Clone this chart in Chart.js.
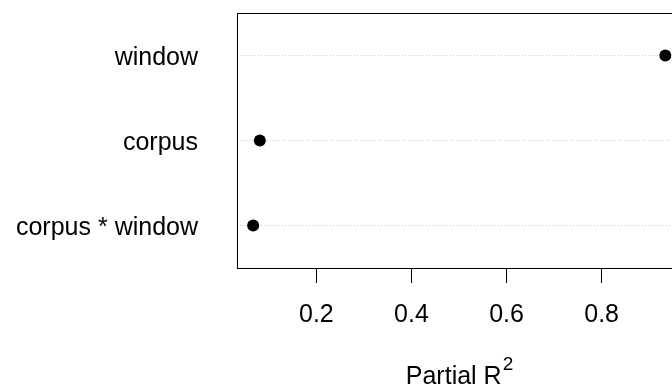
<!DOCTYPE html>
<html>
<head>
<meta charset="utf-8">
<script src="https://cdn.jsdelivr.net/npm/chart.js@4.4.1/dist/chart.umd.min.js"></script>
<style>
  html, body { margin: 0; padding: 0; background: #fff; overflow: hidden; }
  #wrap { width: 672px; height: 385px; overflow: hidden; }
</style>
</head>
<body>
<div id="wrap"><canvas id="dotChart" width="700" height="385"></canvas></div>
<script>
// model terms, top to bottom as in the plot
const terms = ['window', 'corpus', 'corpus * window'];
// partial R^2 of each term
const partialR2 = [0.934, 0.081, 0.067];
// x axis tick values
const xTicks = [0.2, 0.4, 0.6, 0.8];

const FONT = "'Liberation Sans', Arial, Helvetica, sans-serif";

// box round the plot region plus the x label with its superscript
const boxAndTitle = {
  id: 'boxAndTitle',
  afterDraw(chart) {
    const { ctx, chartArea: a } = chart;
    ctx.save();
    ctx.strokeStyle = '#000';
    ctx.lineWidth = 1;
    ctx.strokeRect(a.left + 0.5, a.top + 0.5, a.right - a.left, a.bottom - a.top);

    ctx.fillStyle = '#000';
    ctx.textBaseline = 'alphabetic';
    ctx.textAlign = 'left';
    ctx.font = '25px ' + FONT;
    const main = 'Partial R';
    const w1 = ctx.measureText(main).width;
    ctx.font = '19px ' + FONT;
    const w2 = ctx.measureText('2').width;
    const x0 = (a.left + a.right) / 2 - (w1 + w2) / 2;
    ctx.font = '25px ' + FONT;
    ctx.fillText(main, x0, 384);
    ctx.font = '19px ' + FONT;
    ctx.fillText('2', x0 + w1 + 1, 370);
    ctx.restore();
  }
};

new Chart(document.getElementById('dotChart').getContext('2d'), {
  type: 'scatter',
  data: {
    datasets: [{
      data: terms.map((t, i) => ({ x: partialR2[i], y: t })),
      backgroundColor: '#000',
      borderWidth: 0,
      pointRadius: 6,
      pointHoverRadius: 6,
    }],
  },
  options: {
    responsive: false,
    animation: false,
    layout: {
      padding: { top: 13, left: 0, right: 19, bottom: 0 }
    },
    plugins: {
      legend: { display: false },
      tooltip: { enabled: false },
    },
    scales: {
      x: {
        type: 'linear',
        min: 0.033,
        max: 0.967,
        afterBuildTicks: scale => {
          scale.ticks = xTicks.map(v => ({ value: v }));
        },
        afterFit: scale => {
          scale.height = 117;
          scale.paddingLeft = 0;
          scale.paddingRight = 0;
        },
        grid: {
          drawOnChartArea: false,
          drawTicks: true,
          tickLength: 15,
          tickColor: '#000',
          color: '#000',
        },
        border: { display: false },
        ticks: {
          color: '#000',
          padding: 17,
          maxRotation: 0,
          font: { family: FONT, size: 25 },
          callback: v => v.toFixed(1),
        },
      },
      y: {
        type: 'category',
        labels: terms,
        offset: true,
        afterFit: scale => {
          scale.width = 237;
          scale.paddingTop = 0;
          scale.paddingBottom = 0;
        },
        grid: {
          offset: false,
          drawTicks: false,
          color: '#cfcfcf',
        },
        border: { display: false, dash: [1, 2] },
        ticks: {
          color: '#000',
          padding: 39,
          labelOffset: 3,
          font: { family: FONT, size: 25 },
        },
      },
    },
  },
  plugins: [boxAndTitle],
});
</script>
</body>
</html>
